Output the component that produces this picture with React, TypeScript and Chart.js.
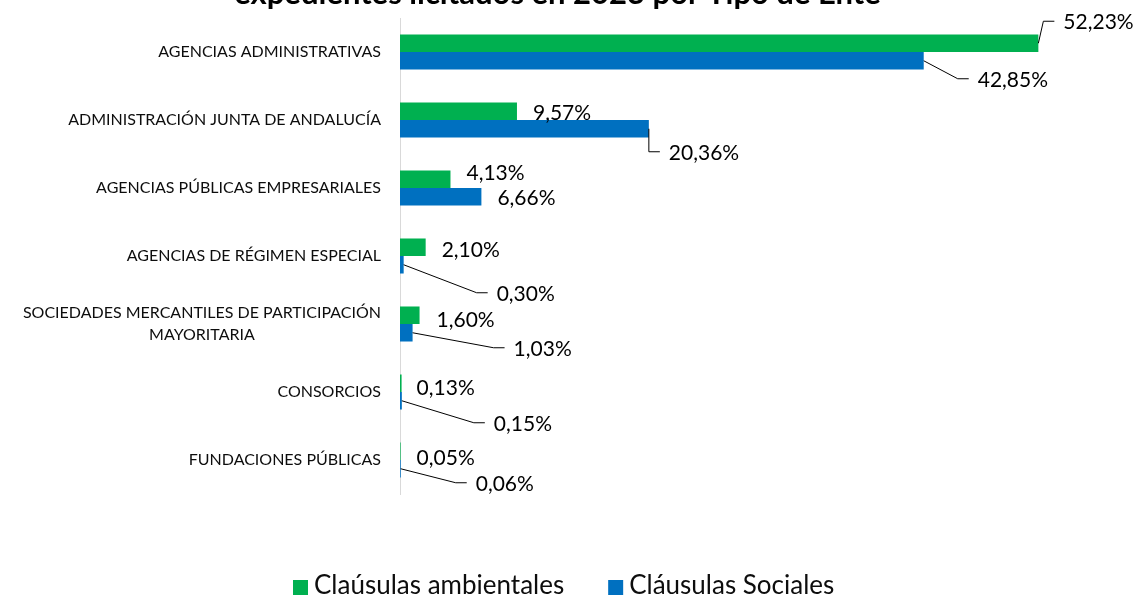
import React, { useEffect, useRef } from 'react';
import { Chart, registerables } from 'chart.js';

Chart.register(...registerables);

// ---------- data ----------
const TITLE = 'expedientes licitados en 2023 por Tipo de Ente';

const categories: (string | string[])[] = [
  'AGENCIAS ADMINISTRATIVAS',
  'ADMINISTRACIÓN JUNTA DE ANDALUCÍA',
  'AGENCIAS PÚBLICAS EMPRESARIALES',
  'AGENCIAS DE RÉGIMEN ESPECIAL',
  ['SOCIEDADES MERCANTILES DE PARTICIPACIÓN', 'MAYORITARIA'],
  'CONSORCIOS',
  'FUNDACIONES PÚBLICAS',
];

const seriesNames = ['Claúsulas ambientales', 'Cláusulas Sociales'];
const ambientales = [52.23, 9.57, 4.13, 2.1, 1.6, 0.13, 0.05];
const sociales = [42.85, 20.36, 6.66, 0.3, 1.03, 0.15, 0.06];

// ---------- styling ----------
const seriesColors = ['#00B050', '#0070C0'];
const FONT = 'Lato, "Noto Sans", sans-serif';
const SHIFT = 40; // canvas is moved up so the title is cropped like in the reference
const CANVAS_H = 599 + SHIFT;
const X_MAX = 58.5;

// label placement: [dx from bar end, dy from bar centre, leader line?]
const labelOffsets: number[][][] = [
  [[25, -21, 1], [16, 2, 0], [16, -6, 0], [16, 3, 0], [17, 5, 0], [15, 5, 0], [16, 7, 0]],
  [[54, 19, 1], [20, 24, 1], [16, 1, 0], [93, 29, 1], [101, 16, 1], [92, 23, 1], [75, 15, 1]],
];

const fmt = (v: number) => v.toFixed(2).replace('.', ',') + '%';

const overlay = {
  id: 'overlay',
  afterDatasetsDraw(chart: any) {
    const ctx: CanvasRenderingContext2D = chart.ctx;
    const yScale = chart.scales.y;
    const area = chart.chartArea;
    ctx.save();

    // category labels (right-aligned box, centred lines)
    ctx.font = `16px ${FONT}`;
    ctx.fillStyle = '#0d0d0d';
    ctx.textBaseline = 'middle';
    ctx.textAlign = 'center';
    (chart.data.labels as (string | string[])[]).forEach((lab, i) => {
      const lines = Array.isArray(lab) ? lab : [lab];
      const cy = yScale.getPixelForValue(i);
      const w = Math.max(...lines.map((l) => ctx.measureText(l).width));
      const cx = area.left - 19 - w / 2;
      lines.forEach((l, k) => ctx.fillText(l, cx, cy + (k - (lines.length - 1) / 2) * 22));
    });

    // data labels with leader lines
    ctx.font = `21px ${FONT}`;
    ctx.textAlign = 'left';
    ctx.fillStyle = '#000';
    ctx.strokeStyle = '#000';
    ctx.lineWidth = 1;
    chart.data.datasets.forEach((ds: any, di: number) => {
      const meta = chart.getDatasetMeta(di);
      meta.data.forEach((bar: any, i: number) => {
        const [dx, dy, leader] = labelOffsets[di][i];
        const tx = bar.x + dx;
        const ty = bar.y + dy;
        if (leader) {
          ctx.beginPath();
          ctx.moveTo(bar.x, bar.y);
          ctx.lineTo(tx - 20, ty - 1);
          ctx.lineTo(tx - 9, ty - 1);
          ctx.stroke();
        }
        ctx.fillText(fmt(ds.data[i]), tx, ty);
      });
    });

    // legend
    ctx.font = `26px ${FONT}`;
    ctx.textBaseline = 'alphabetic';
    const names = chart.data.datasets.map((d: any) => d.label as string);
    const box = 15;
    let x = 293;
    const boxTop = 580 + SHIFT;
    const baseline = 594 + SHIFT;
    names.forEach((n: string, k: number) => {
      ctx.fillStyle = chart.data.datasets[k].backgroundColor;
      ctx.fillRect(x, boxTop, box, box);
      x += box + 6;
      ctx.fillStyle = '#0d0d0d';
      ctx.fillText(n, x, baseline);
      x += ctx.measureText(n).width + 44;
    });

    ctx.restore();
  },
};

export default function App() {
  const ref = useRef<HTMLCanvasElement>(null);

  useEffect(() => {
    const chart = new Chart(ref.current as HTMLCanvasElement, {
      type: 'bar',
      data: {
        labels: categories as any,
        datasets: [
          {
            label: seriesNames[0],
            data: ambientales,
            backgroundColor: seriesColors[0],
            barPercentage: 1,
            categoryPercentage: 0.515,
          },
          {
            label: seriesNames[1],
            data: sociales,
            backgroundColor: seriesColors[1],
            barPercentage: 1,
            categoryPercentage: 0.515,
          },
        ],
      },
      options: {
        indexAxis: 'y',
        animation: false,
        responsive: false,
        events: [],
        layout: { padding: { left: 0, right: 29, top: 0, bottom: 0 } },
        plugins: {
          legend: { display: false },
          tooltip: { enabled: false },
          title: {
            display: true,
            text: TITLE,
            color: '#000',
            font: { family: FONT, size: 31, weight: 'bold', lineHeight: 1.2 },
            padding: { top: 15.5, bottom: 5.3 },
          },
        },
        scales: {
          x: {
            type: 'linear',
            min: 0,
            max: X_MAX,
            grid: { display: false },
            border: { display: false },
            ticks: { display: false },
            afterFit(s: any) {
              s.height = 105;
            },
          },
          y: {
            grid: { display: false },
            border: { display: true, color: '#d9d9d9', width: 1 },
            ticks: { display: false },
            afterFit(s: any) {
              s.width = 400;
            },
          },
        },
      },
      plugins: [overlay],
    });
    return () => chart.destroy();
  }, []);

  return (
    <div
      style={{
        position: 'fixed',
        left: 0,
        top: 0,
        width: 1144,
        height: 599,
        overflow: 'hidden',
        background: '#fff',
      }}
    >
      <canvas
        ref={ref}
        width={1144}
        height={CANVAS_H}
        style={{ position: 'absolute', left: 0, top: -SHIFT, width: 1144, height: CANVAS_H }}
      />
    </div>
  );
}
